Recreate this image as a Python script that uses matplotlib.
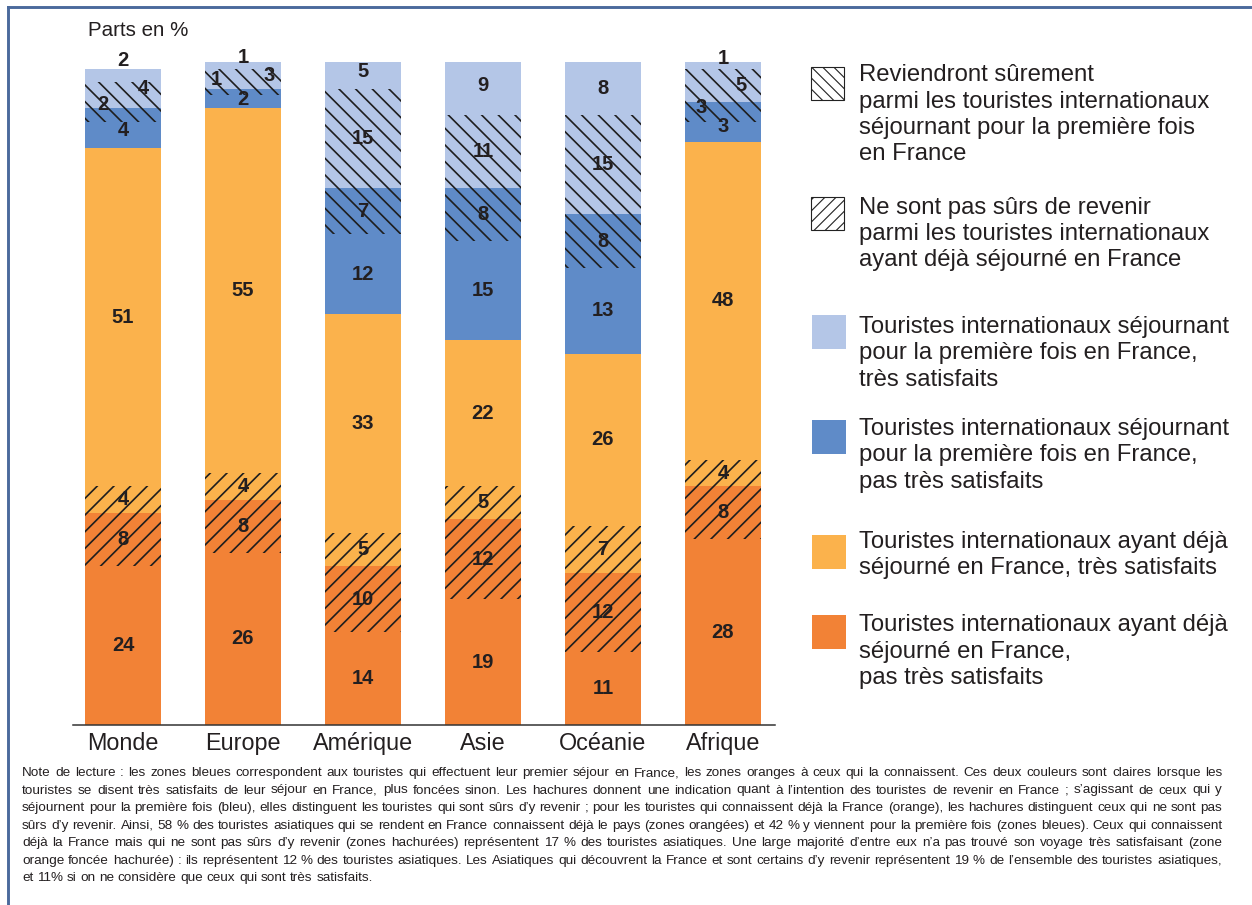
import matplotlib.pyplot as plt
from matplotlib import font_manager
from matplotlib.patches import Rectangle
from matplotlib.lines import Line2D
import numpy as np

plt.rcParams['font.family'] = ['Liberation Sans', 'DejaVu Sans']
plt.rcParams['hatch.linewidth'] = 1.2

regions = ['Monde', 'Europe', 'Amérique', 'Asie', 'Océanie', 'Afrique']

# parts en %, du bas vers le haut de chaque barre
deja_pas_tres_satisf = [24, 26, 14, 19, 11, 28]
deja_pas_tres_satisf_hach = [8, 8, 10, 12, 12, 8]
deja_tres_satisf_hach = [4, 4, 5, 5, 7, 4]
deja_tres_satisf = [51, 55, 33, 22, 26, 48]
premiere_pas_tres_satisf = [4, 2, 12, 15, 13, 3]
premiere_pas_tres_satisf_hach = [2, 1, 7, 8, 8, 3]
premiere_tres_satisf_hach = [4, 3, 15, 11, 15, 5]
premiere_tres_satisf = [2, 1, 5, 9, 8, 1]

series = [deja_pas_tres_satisf, deja_pas_tres_satisf_hach, deja_tres_satisf_hach,
          deja_tres_satisf, premiere_pas_tres_satisf, premiere_pas_tres_satisf_hach,
          premiere_tres_satisf_hach, premiere_tres_satisf]

c_lblue = '#b4c6e7'
c_dblue = '#5f8bc8'
c_lorange = '#fbb24c'
c_dorange = '#f28236'
colors = [c_dorange, c_dorange, c_lorange, c_lorange, c_dblue, c_dblue, c_lblue, c_lblue]
hatches = [None, '//', '//', None, None, '\\\\', '\\\\', None]

# décalage des étiquettes dans les petits segments (barre, segment) -> (dx, dy)
label_shift = {
    (0, 7): (0, 2.3), (0, 6): (0.17, 1.0), (0, 5): (-0.17, 1.6), (0, 4): (0, 0.7),
    (1, 7): (0, 1.2), (1, 6): (0.22, 0.5), (1, 5): (-0.22, 1.8), (1, 4): (0, 0.3),
    (5, 7): (0, 1.0), (5, 6): (0.15, 0.0), (5, 5): (-0.18, 0.7), (5, 4): (0, 0.7),
}

legend_hatch = [
    ('\\\\\\', ["Reviendront sûrement", "parmi les touristes internationaux",
                "séjournant pour la première fois", "en France"]),
    ('///', ["Ne sont pas sûrs de revenir", "parmi les touristes internationaux",
             "ayant déjà séjourné en France"]),
]
legend_color = [
    (c_lblue, ["Touristes internationaux séjournant", "pour la première fois en France,",
               "très satisfaits"]),
    (c_dblue, ["Touristes internationaux séjournant", "pour la première fois en France,",
               "pas très satisfaits"]),
    (c_lorange, ["Touristes internationaux ayant déjà", "séjourné en France, très satisfaits"]),
    (c_dorange, ["Touristes internationaux ayant déjà", "séjourné en France,",
                 "pas très satisfaits"]),
]

note_lines = [
    "Note de lecture : les zones bleues correspondent aux touristes qui effectuent leur premier séjour en France, les zones oranges à ceux qui la connaissent. Ces deux couleurs sont claires lorsque les",
    "touristes se disent très satisfaits de leur séjour en France, plus foncées sinon. Les hachures donnent une indication quant à l’intention des touristes de revenir en France ; s’agissant de ceux qui y",
    "séjournent pour la première fois (bleu), elles distinguent les touristes qui sont sûrs d’y revenir ; pour les touristes qui connaissent déjà la France (orange), les hachures distinguent ceux qui ne sont pas",
    "sûrs d’y revenir. Ainsi, 58 % des touristes asiatiques qui se rendent en France connaissent déjà le pays (zones orangées) et 42 % y viennent pour la première fois (zones bleues). Ceux qui connaissent",
    "déjà la France mais qui ne sont pas sûrs d’y revenir (zones hachurées) représentent 17 % des touristes asiatiques. Une large majorité d’entre eux n’a pas trouvé son voyage très satisfaisant (zone",
    "orange foncée hachurée) : ils représentent 12 % des touristes asiatiques. Les Asiatiques qui découvrent la France et sont certains d’y revenir représentent 19 % de l’ensemble des touristes asiatiques,",
    "et 11% si on ne considère que ceux qui sont très satisfaits.",
]

W, H, DPI = 1252, 905, 100
fig = plt.figure(figsize=(W / DPI, H / DPI), dpi=DPI)


def fx(px):
    return px / W


def fy(py):
    return 1 - py / H


ax = fig.add_axes([fx(73), fy(725), fx(702), 663 / H])
x = np.arange(len(regions))
bottom = np.zeros(len(regions))
for k, vals in enumerate(series):
    vals = np.array(vals, dtype=float)
    ax.bar(x, vals, 0.633, bottom=bottom, color=colors[k], hatch=hatches[k],
           edgecolor='#1e1e1e', linewidth=0)
    for i, v in enumerate(vals):
        dx, dy = label_shift.get((i, k), (0, 0))
        ax.text(x[i] + dx, bottom[i] + v / 2 + dy, f'{int(v)}', ha='center', va='center',
                fontsize=14.5, fontweight='bold', color='#231f20')
    bottom += vals

ax.set_xlim(-50 / 120, 652 / 120)
ax.set_ylim(0, 100)
ax.set_yticks([])
ax.set_xticks(x)
ax.set_xticklabels(regions, fontsize=16.8, color='#231f20')
ax.tick_params(axis='x', length=0, pad=5)
for s in ['top', 'right', 'left']:
    ax.spines[s].set_visible(False)
ax.spines['bottom'].set_color('#333333')
ax.spines['bottom'].set_linewidth(1.1)
ax.set_zorder(2)

fig.text(fx(88), fy(30), 'Parts en %', fontsize=14.8, color='#231f20', va='center')

# légende dessinée à droite
hatch_boxes = [(67, [75, 102, 128, 154]), (197, [208, 234, 260])]
for (hatch, lines), (top, ys) in zip(legend_hatch, hatch_boxes):
    leg_box = Rectangle((fx(811), fy(top + 33)), fx(33), 33 / H, facecolor='white',
                        edgecolor='#222222', linewidth=0.8, hatch=hatch,
                        transform=fig.transFigure)
    leg_box.set_hatch_linewidth(0.8)
    fig.add_artist(leg_box)
    for ln, yy in zip(lines, ys):
        fig.text(fx(859), fy(yy), ln, fontsize=17.2, color='#231f20', va='center')

color_boxes = [(315, [327, 353, 380]), (420, [429, 455, 482]), (535, [542, 568]),
               (615, [625, 652, 678])]
for (col, lines), (top, ys) in zip(legend_color, color_boxes):
    fig.add_artist(Rectangle((fx(812), fy(top + 34)), fx(34), 34 / H, facecolor=col,
                             edgecolor='none', transform=fig.transFigure))
    for ln, yy in zip(lines, ys):
        fig.text(fx(859), fy(yy), ln, fontsize=17.2, color='#231f20', va='center')

# note de lecture, justifiée
names = {f.name for f in font_manager.fontManager.ttflist}
note_family = 'Liberation Sans Narrow' if 'Liberation Sans Narrow' in names else 'Liberation Sans'
renderer = fig.canvas.get_renderer()


def text_width(s, size):
    t = fig.text(0, 0, s, fontsize=size, family=note_family)
    w = t.get_window_extent(renderer).width
    t.remove()
    return w


left, right = 22, 1222
note_size = 10.5
while True:
    space_w = text_width('a a', note_size) - text_width('aa', note_size)
    widest = max(sum(text_width(w, note_size) for w in ln.split()) + space_w * (len(ln.split()) - 1)
                 for ln in note_lines[:-1])
    if widest <= right - left or note_size < 7:
        break
    note_size -= 0.2

for j, ln in enumerate(note_lines):
    words = ln.split()
    widths = [text_width(w, note_size) for w in words]
    if j < len(note_lines) - 1:
        gap = (right - left - sum(widths)) / (len(words) - 1)
    else:
        gap = space_w
    xx = left
    yy = 776 + j * 17.5
    for w, wd in zip(words, widths):
        fig.text(fx(xx), fy(yy), w, fontsize=note_size, family=note_family,
                 color='#231f20', va='baseline')
        xx += wd + gap

# cadre
frame_col = '#4b6a9c'
fig.add_artist(Line2D([fx(7.5), fx(7.5)], [0, fy(7.5)], color=frame_col, linewidth=2.1,
                      transform=fig.transFigure))
fig.add_artist(Line2D([fx(7.5), 1], [fy(7.5), fy(7.5)], color=frame_col, linewidth=2.1,
                      transform=fig.transFigure))

fig.savefig('out.png', dpi=DPI)
